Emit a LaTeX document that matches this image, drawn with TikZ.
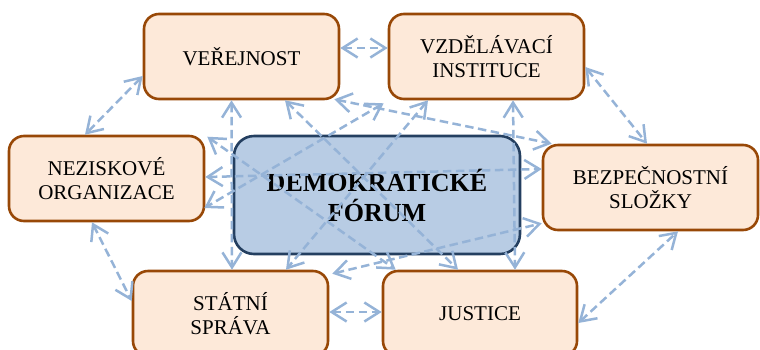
\documentclass[tikz,border=0pt]{standalone}
\usepackage{fontspec}
\setmainfont{Liberation Serif}
\usetikzlibrary{arrows.meta}
\definecolor{peach}{HTML}{FDE9D9}
\definecolor{brownb}{HTML}{984807}
\definecolor{forumfill}{HTML}{B8CCE4}
\definecolor{forumline}{HTML}{243F60}
\definecolor{linkc}{HTML}{95B3D7}
\begin{document}
\begin{tikzpicture}[x=1pt,y=-1pt,
  box/.style={draw=brownb, fill=peach, line width=2.6pt, rounded corners=15pt,
    minimum width=195pt, minimum height=85pt, align=center, inner sep=0pt,
    font=\fontsize{21}{24}\selectfont},
  forum/.style={draw=forumline, fill=forumfill, line width=2.6pt, rounded corners=20pt,
    minimum width=286pt, minimum height=118pt, align=center, inner sep=0pt,
    font=\bfseries\fontsize{26}{30}\selectfont},
  link/.style={draw=linkc, line width=2.5pt, dash pattern=on 8.5pt off 4.5pt,
    {Straight Barb[length=15pt,width=19pt]}-{Straight Barb[length=15pt,width=19pt]}}]
\clip (0,0) rectangle (760,349);
\node[box] (ver) at (241.5,56.5) {VEŘEJNOST};
\node[box] (vzd) at (486.5,56.5) {VZDĚLÁVACÍ\\INSTITUCE};
\node[box] (nez) at (106.5,178.5) {NEZISKOVÉ\\ORGANIZACE};
\node[forum] (dem) at (377,195) {DEMOKRATICKÉ\\FÓRUM};
\node[box, minimum width=215pt] (bez) at (650.5,187.5) {BEZPEČNOSTNÍ\\SLOŽKY};
\node[box] (sta) at (230.5,313.5) {STÁTNÍ\\SPRÁVA};
\node[box, minimum width=194pt] (jus) at (480,313.5) {JUSTICE};
% outer ring
\draw[link] ([yshift=8.5pt]ver.east) -- ([yshift=8.5pt]vzd.west);
\draw[link] ([yshift=-19.5pt]ver.west) -- ([xshift=-21.5pt]nez.north);
\draw[link] ([yshift=-10.5pt]vzd.east) -- ([xshift=-3.5pt]bez.north);
\draw[link] ([xshift=-14.5pt]nez.south) -- ([yshift=12.5pt]sta.west);
\draw[link] ([yshift=1.5pt]sta.east) -- ([yshift=1.5pt]jus.west);
\draw[link] ([yshift=-9.5pt]jus.east) -- ([xshift=27.5pt]bez.south);
% crossing links
\draw[link] ([xshift=-10pt]ver.south) -- ([xshift=1.5pt]sta.north);
\draw[link] ([xshift=26.5pt]vzd.south) -- ([xshift=35pt]jus.north);
\draw[link] ([yshift=1.5pt]nez.east) -- ([yshift=18.5pt]bez.west);
\draw[link] ([xshift=43.5pt]ver.south) -- ([xshift=-22pt]jus.north);
\draw[link] ([xshift=-6pt,yshift=1pt]ver.south east) -- ([xshift=10pt]bez.north west);
\draw[link] ([xshift=-4pt,yshift=-3pt]vzd.south west) -- ([xshift=-1pt,yshift=-29.5pt]nez.east);
\draw[link] ([xshift=-58.5pt]vzd.south) -- ([xshift=55.5pt]sta.north);
\draw[link] ([xshift=2pt,yshift=-2pt]nez.north east) -- ([xshift=14pt]jus.north west);
\draw[link] ([xshift=3pt,yshift=-4pt]sta.north east) -- ([yshift=8pt]bez.south west);
\end{tikzpicture}
\end{document}
